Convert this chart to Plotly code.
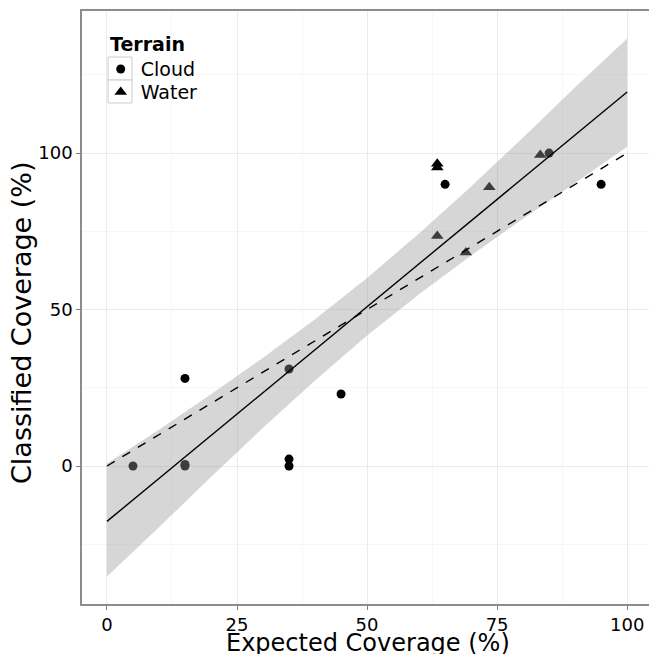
import plotly.graph_objects as go

# ---- data ----
cloud_x = [5, 15, 15, 15, 35, 35, 35, 45, 65, 85, 95]
cloud_y = [0, 0, 0.5, 28, 31, 2.2, 0, 23, 90, 100, 90]
water_x = [63.5, 63.5, 63.5, 69, 73.5, 83.3]
water_y = [96.6, 95.4, 73.5, 68.2, 89.1, 99.4]

# linear fit line and its 95% confidence band
fit_x = [0, 100]
fit_y = [-17.7, 119.5]
band_x = [0, 10, 20, 30, 40, 50, 60, 70, 80, 90, 100]
band_upper = [0.8, 11.6, 22.9, 34.6, 46.9, 60.1, 74.3, 89.3, 105.0, 121.0, 136.6]
band_lower = [-35.3, -19.6, -3.5, 12.2, 27.3, 41.7, 54.9, 67.3, 79.0, 90.4, 102.0]

# dashed 1:1 reference line
identity_x = [0, 100]
identity_y = [0, 100]

x_ticks = [0, 25, 50, 75, 100]
x_minor = [-12.5, 12.5, 37.5, 62.5, 87.5]
y_ticks = [0, 50, 100]
y_minor = [-25, 25, 75, 125]

fig = go.Figure()
fig.add_trace(go.Scatter(x=cloud_x, y=cloud_y, mode="markers", name="Cloud",
                         legend="legend",
                         marker=dict(symbol="circle", size=9, color="black")))
fig.add_trace(go.Scatter(x=water_x, y=water_y, mode="markers", name="Water",
                         legend="legend2",
                         marker=dict(symbol="triangle-up", size=11, color="black")))
fig.add_trace(go.Scatter(x=band_x + band_x[::-1],
                         y=band_upper + band_lower[::-1],
                         fill="toself", fillcolor="rgba(153,153,153,0.4)",
                         line=dict(width=0), mode="lines", showlegend=False,
                         hoverinfo="skip"))
fig.add_trace(go.Scatter(x=fit_x, y=fit_y, mode="lines", showlegend=False,
                         line=dict(color="black", width=1.4)))
fig.add_trace(go.Scatter(x=identity_x, y=identity_y, mode="lines", showlegend=False,
                         line=dict(color="black", width=1.4, dash="dash")))

common = dict(
    ticks="outside", ticklen=4, tickcolor="#7f7f7f", tickwidth=1,
    tickfont=dict(family="DejaVu Sans", size=18, color="black"),
    showgrid=True, gridcolor="#ebebeb", gridwidth=1,
    showline=True, linecolor="#8c8c8c", linewidth=1.5,
    zeroline=False, automargin=False,
)
fig.update_xaxes(range=[-4.8, 104.2], tickvals=x_ticks, ticktext=[str(v) for v in x_ticks],
                 minor=dict(showgrid=True, gridcolor="#f7f7f7", ticks="", tickvals=x_minor),
                 mirror=True, **common)
fig.update_yaxes(range=[-44.1, 145.4], tickvals=y_ticks, ticktext=[str(v) for v in y_ticks],
                 minor=dict(showgrid=True, gridcolor="#f7f7f7", ticks="", tickvals=y_minor),
                 **common)

# axis titles (placed as in the reference)
fig.add_annotation(text="Expected Coverage (%)", xref="paper", yref="paper",
                   x=0.505, y=-0.0655, xanchor="center", yanchor="middle",
                   showarrow=False,
                   font=dict(family="DejaVu Sans", size=24, color="black"))
fig.add_annotation(text="Classified Coverage (%)", xref="paper", yref="paper",
                   x=-0.1076, y=0.4755, xanchor="center", yanchor="middle",
                   textangle=-90, showarrow=False,
                   font=dict(family="DejaVu Sans", size=27, color="black"))

# legend key boxes (ggplot-style)
for y0, y1 in [(0.8836, 0.9224), (0.8449, 0.8836)]:
    fig.add_shape(type="rect", xref="paper", yref="paper", x0=0.0459, x1=0.0882,
                  y0=y0, y1=y1, line=dict(color="#cccccc", width=1),
                  fillcolor="white", layer="above")

fig.add_annotation(text="<b>Terrain</b>", xref="paper", yref="paper",
                   x=0.046, y=0.944, xanchor="left", yanchor="middle", showarrow=False,
                   font=dict(family="DejaVu Sans", size=19, color="black"))

leg_common = dict(xanchor="left", yanchor="top", font=dict(size=19),
                  bgcolor="rgba(255,255,255,0)", itemwidth=30)
fig.update_layout(
    width=649, height=654,
    margin=dict(l=82, r=0, t=11, b=50),
    plot_bgcolor="white", paper_bgcolor="white",
    font=dict(family="DejaVu Sans", color="black"),
    legend=dict(x=0.033, y=0.934, **leg_common),
    legend2=dict(x=0.033, y=0.8954, **leg_common),
)

fig.write_html("out.html", config={"displayModeBar": False},
               post_script="document.body.style.margin='0';")
